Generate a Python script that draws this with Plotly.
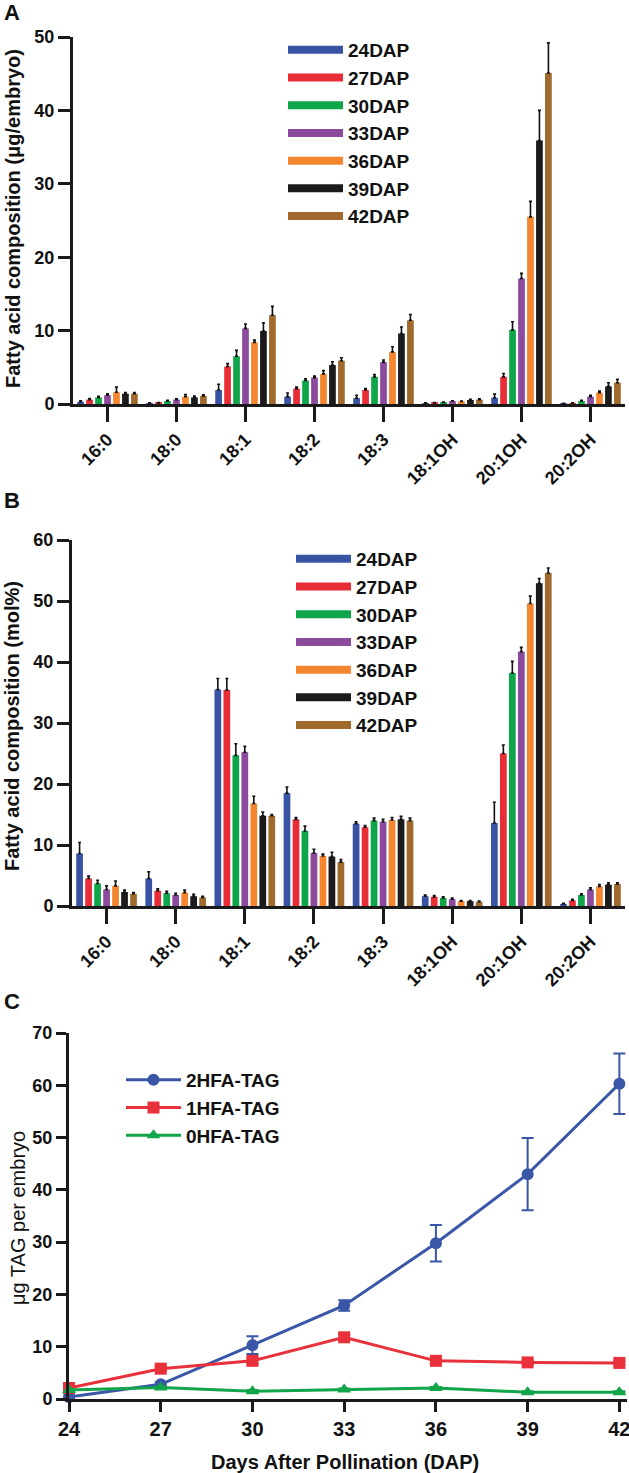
import plotly.graph_objects as go

W, H = 629, 1473

categories = ["16:0", "18:0", "18:1", "18:2", "18:3", "18:1OH", "20:1OH", "20:2OH"]
series_names = ["24DAP", "27DAP", "30DAP", "33DAP", "36DAP", "39DAP", "42DAP"]
bar_colors = ["#3953A4", "#E92D36", "#0FA54A", "#8C4A9C", "#F4862F", "#1C1A1A", "#A06A2C"]

# Panel A: ug/embryo
a_24 = [0.3, 0.1, 1.9, 1.0, 0.8, 0.1, 0.85, 0.05]
a_27 = [0.6, 0.15, 5.1, 2.1, 1.9, 0.15, 3.7, 0.1]
a_30 = [0.9, 0.4, 6.5, 3.2, 3.7, 0.2, 10.1, 0.4]
a_33 = [1.2, 0.6, 10.3, 3.6, 5.7, 0.4, 17.1, 1.0]
a_36 = [1.6, 1.0, 8.4, 4.1, 7.1, 0.35, 25.5, 1.55]
a_39 = [1.4, 0.9, 9.95, 5.3, 9.6, 0.55, 35.9, 2.4]
a_42 = [1.4, 1.1, 12.1, 5.9, 11.4, 0.6, 45.1, 2.9]
a_err_24 = [0.15, 0.05, 0.8, 0.5, 0.4, 0.05, 0.5, 0.05]
a_err_27 = [0.15, 0.05, 0.4, 0.2, 0.2, 0.05, 0.45, 0.05]
a_err_30 = [0.15, 0.1, 0.8, 0.25, 0.3, 0.05, 1.1, 0.1]
a_err_33 = [0.2, 0.1, 0.6, 0.2, 0.3, 0.05, 0.7, 0.2]
a_err_36 = [0.7, 0.3, 0.3, 0.45, 0.7, 0.05, 2.1, 0.2]
a_err_39 = [0.15, 0.2, 1.1, 0.45, 0.9, 0.1, 4.1, 0.5]
a_err_42 = [0.15, 0.15, 1.2, 0.4, 0.8, 0.1, 4.1, 0.45]

# Panel B: mol%
b_24 = [8.6, 4.5, 35.5, 18.5, 13.5, 1.6, 13.6, 0.35]
b_27 = [4.5, 2.5, 35.4, 14.2, 12.9, 1.5, 25.0, 0.9]
b_30 = [3.7, 2.1, 24.7, 12.3, 14.0, 1.3, 38.2, 1.8]
b_33 = [2.7, 1.8, 25.2, 8.7, 13.8, 1.1, 41.7, 2.7]
b_36 = [3.3, 2.2, 16.8, 8.2, 14.1, 0.8, 49.6, 3.2]
b_39 = [2.3, 1.6, 14.8, 8.1, 14.2, 0.8, 52.9, 3.5]
b_42 = [2.0, 1.4, 14.8, 7.2, 14.0, 0.7, 54.6, 3.6]
b_err_24 = [1.8, 1.1, 1.8, 1.0, 0.3, 0.2, 3.4, 0.1]
b_err_27 = [0.4, 0.3, 1.9, 0.3, 0.3, 0.2, 1.4, 0.2]
b_err_30 = [0.5, 0.3, 1.9, 0.8, 0.4, 0.2, 1.9, 0.2]
b_err_33 = [0.6, 0.3, 1.0, 0.6, 0.4, 0.2, 0.7, 0.3]
b_err_36 = [0.8, 0.4, 1.2, 0.3, 0.4, 0.1, 1.2, 0.3]
b_err_39 = [0.3, 0.3, 0.6, 0.7, 0.5, 0.1, 0.8, 0.3]
b_err_42 = [0.2, 0.2, 0.2, 0.4, 0.4, 0.1, 0.8, 0.2]

# Panel C: ug TAG per embryo
days = [24, 27, 30, 33, 36, 39, 42]
tag_names = ["2HFA-TAG", "1HFA-TAG", "0HFA-TAG"]
tag2 = [0.4, 2.8, 10.3, 17.9, 29.8, 43.0, 60.3]
tag2_err = [0.3, 0.4, 1.7, 1.0, 3.5, 6.9, 5.8]
tag1 = [2.1, 5.8, 7.3, 11.8, 7.3, 7.0, 6.9]
tag1_err = [0.3, 0.4, 0.5, 0.6, 0.4, 0.3, 0.3]
tag0 = [1.7, 2.2, 1.5, 1.8, 2.1, 1.3, 1.3]
tag0_err = [0.2, 0.2, 0.2, 0.2, 0.2, 0.2, 0.2]
tag_colors = ["#3A56A6", "#E8313A", "#12A54A"]
tag_symbols = ["circle", "square", "triangle-up"]

A_vals = [a_24, a_27, a_30, a_33, a_36, a_39, a_42]
A_errs = [a_err_24, a_err_27, a_err_30, a_err_33, a_err_36, a_err_39, a_err_42]
B_vals = [b_24, b_27, b_30, b_33, b_36, b_39, b_42]
B_errs = [b_err_24, b_err_27, b_err_30, b_err_33, b_err_36, b_err_39, b_err_42]

FONT = "Liberation Sans, Arial, Helvetica, sans-serif"

def px_x(p):
    return p / W

def px_y(p):
    return 1 - p / H

fig = go.Figure()

for panel, (vals, errs, xa, ya, leg) in enumerate([
        (A_vals, A_errs, "x", "y", "legend"),
        (B_vals, B_errs, "x2", "y2", "legend2")]):
    for name, col, v, e in zip(series_names, bar_colors, vals, errs):
        fig.add_trace(go.Bar(
            x=categories, y=v, name=name, marker=dict(color=col, line=dict(width=0)),
            error_y=dict(type="data", array=e, arrayminus=[0] * len(e), symmetric=False,
                         color="#111111", thickness=1.6, width=1.5),
            xaxis=xa, yaxis=ya, showlegend=False))
        fig.add_trace(go.Scatter(
            x=[None], y=[None], mode="lines", name=name,
            line=dict(color=col, width=8), xaxis=xa, yaxis=ya,
            legend=leg, showlegend=True))

for name, col, sym, v, e in zip(tag_names, tag_colors, tag_symbols,
                                [tag2, tag1, tag0], [tag2_err, tag1_err, tag0_err]):
    fig.add_trace(go.Scatter(
        x=days, y=v, name=name, mode="lines+markers",
        line=dict(color=col, width=3),
        marker=dict(color=col, symbol=sym, size=12),
        error_y=dict(type="data", array=e, color=col, thickness=2, width=6),
        xaxis="x3", yaxis="y3", legend="legend3", cliponaxis=False))

axis_common = dict(showline=True, linecolor="#1a1a1a", linewidth=3, ticks="outside",
                   tickcolor="#1a1a1a", tickwidth=3, showgrid=False, zeroline=False,
                   automargin=False, ticklabeloverflow="allow",
                   tickfont=dict(family=FONT, size=18, color="#111111", weight="bold"))

legend_common = dict(xanchor="left", yanchor="top", tracegroupgap=0,
                     font=dict(family=FONT, size=19, color="#111111", weight="bold"),
                     bgcolor="rgba(0,0,0,0)", itemwidth=55)

fig.update_layout(
    width=W, height=H, margin=dict(l=0, r=0, t=0, b=0),
    plot_bgcolor="white", paper_bgcolor="white",
    barmode="group", bargap=0.09, bargroupgap=0.25,
    font=dict(family=FONT, color="#111111"),
    xaxis=dict(axis_common, domain=[px_x(73), px_x(625)], range=[-0.5, 7.5], anchor="y",
               ticklen=15, tickangle=-45, type="category"),
    yaxis=dict(axis_common, domain=[px_y(404), px_y(37)], range=[0, 50], anchor="x",
               tickvals=[0, 10, 20, 30, 40, 50], ticklen=12),
    xaxis2=dict(axis_common, domain=[px_x(72), px_x(625)], range=[-0.5, 7.5], anchor="y2",
                ticklen=15, tickangle=-45, type="category"),
    yaxis2=dict(axis_common, domain=[px_y(906), px_y(540)], range=[0, 60], anchor="x2",
                tickvals=[0, 10, 20, 30, 40, 50, 60], ticklen=12),
    xaxis3=dict(axis_common, domain=[px_x(69), px_x(627)], range=[24, 42.25], anchor="y3",
                tickvals=days, ticklen=10,
                tickfont=dict(family=FONT, size=20, color="#111111", weight="bold")),
    yaxis3=dict(axis_common, domain=[px_y(1399), px_y(1033)], range=[0, 70], anchor="x3",
                tickvals=[0, 10, 20, 30, 40, 50, 60, 70], ticklen=10),
    legend=dict(legend_common, x=px_x(283), y=px_y(31)),
    legend2=dict(legend_common, x=px_x(291), y=px_y(540)),
    legend3=dict(legend_common, x=px_x(121), y=px_y(1061)),
)

ann = []
def add_text(text, x, y, size, bold=True, angle=0):
    ann.append(dict(text=text, x=px_x(x), y=px_y(y), xref="paper", yref="paper",
                    showarrow=False, textangle=angle, xanchor="center", yanchor="middle",
                    font=dict(family=FONT, size=size, color="#111111",
                              weight="bold" if bold else "normal")))

add_text("A", 12, 12, 22)
add_text("B", 12, 500, 22)
add_text("C", 12, 1001, 22)
add_text("Fatty acid composition (μg/embryo)", 13, 219, 20, angle=-90)
add_text("Fatty acid composition (mol%)", 12, 726, 20, angle=-90)
add_text("μg TAG per embryo", 18, 1218, 20, bold=False, angle=-90)
add_text("Days After Pollination (DAP)", 345, 1462, 20)
fig.update_layout(annotations=ann)

fig.write_html("out.html", config={"displayModeBar": False},
               post_script="document.body.style.margin='0';document.body.style.overflow='hidden';")
